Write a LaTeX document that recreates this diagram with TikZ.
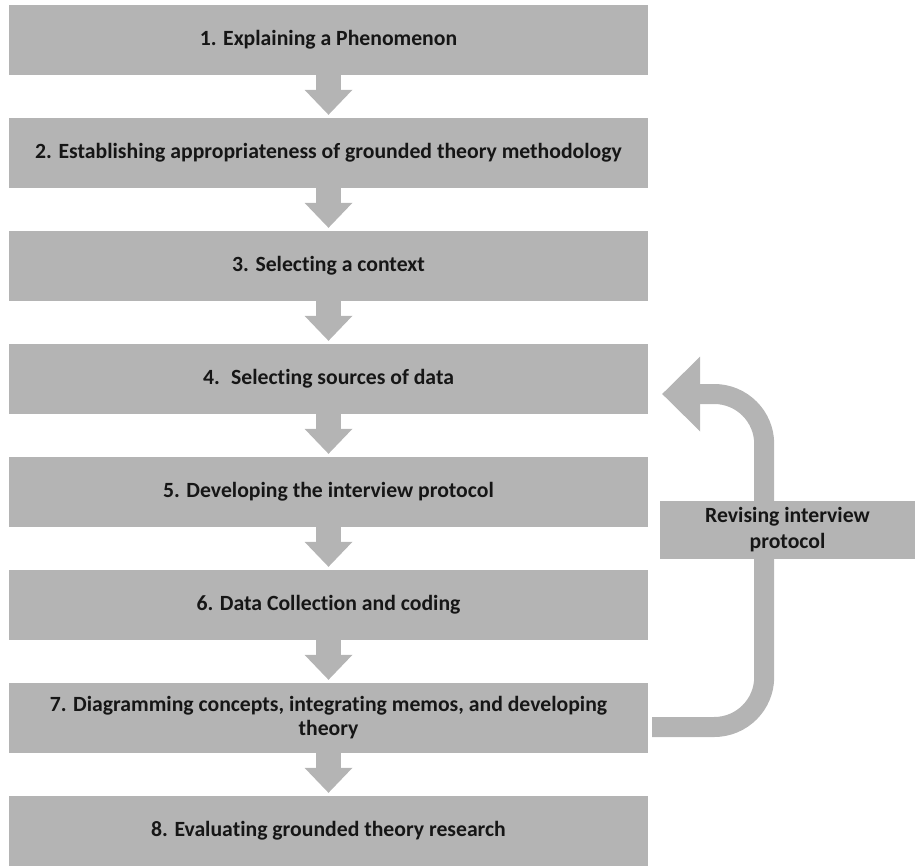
\documentclass[tikz,border=0pt]{standalone}
\usepackage{fontspec}
\setmainfont[Ligatures=NoCommon]{Carlito}
\usepackage{xcolor}
\usetikzlibrary{arrows.meta}

\definecolor{boxgray}{RGB}{180,180,180}
\definecolor{inkgray}{RGB}{22,22,22}

\begin{document}
\begin{tikzpicture}[x=1pt,y=-1pt]
\useasboundingbox (0,0) rectangle (915,866);

% the eight stages
\begin{scope}[every node/.style={rectangle,fill=boxgray,text=inkgray,inner sep=0pt,
              minimum width=639pt,minimum height=70pt,align=center,
              font=\bfseries\fontsize{21.7}{24}\selectfont}]
  \node (s1) at (328.5,40) {1. Explaining a Phenomenon};
  \node (s2) at (328.5,153) {2. Establishing appropriateness of grounded theory methodology};
  \node (s3) at (328.5,266) {3. Selecting a context};
  \node (s4) at (328.5,379) {4.~ Selecting sources of data};
  \node (s5) at (328.5,492) {5. Developing the interview protocol};
  \node (s6) at (328.5,605) {6. Data Collection and coding};
  \node (s7) at (328.5,718) {7. Diagramming concepts, integrating memos, and developing\\theory};
  \node (s8) at (328.5,831) {8. Evaluating grounded theory research};
\end{scope}

\begin{scope}[steparrow/.style={draw=boxgray, line width=25pt, shorten >=3pt,
                -{Triangle[length=25pt,width=48pt,line width=0pt]}},
              looparrow/.style={draw=boxgray, line width=20pt, rounded corners=50pt,
                -{Triangle[length=38pt,width=75pt,line width=0pt]}}]
    \draw[steparrow] (s1) -- (s2);
    \draw[steparrow] (s2) -- (s3);
    \draw[steparrow] (s3) -- (s4);
    \draw[steparrow] (s4) -- (s5);
    \draw[steparrow] (s5) -- (s6);
    \draw[steparrow] (s6) -- (s7);
    \draw[steparrow] (s7) -- (s8);
    % feedback loop from stage 7 back to stage 4
    \draw[looparrow] ([xshift=4pt,yshift=-9pt]s7.east) -- ++(112,0) -- ++(0,-333)
        -- ([xshift=14pt,yshift=-15pt]s4.east);
\end{scope}

\node[rectangle,fill=boxgray,text=inkgray,inner sep=0pt,minimum width=255pt,
      minimum height=58pt,align=center,font=\bfseries\fontsize{21.7}{26}\selectfont]
  (rev) at (787.5,530) {Revising interview\\protocol};

\end{tikzpicture}
\end{document}
